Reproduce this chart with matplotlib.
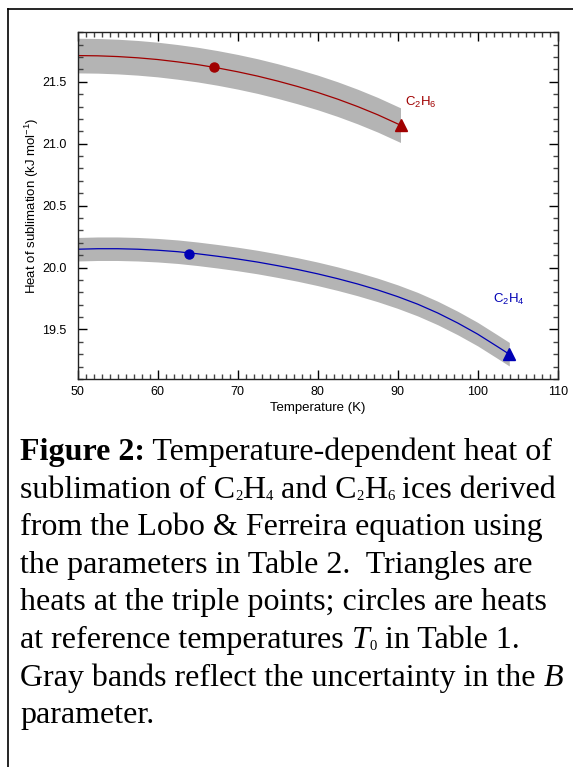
import matplotlib
matplotlib.use("Agg")
import matplotlib.pyplot as plt
from matplotlib.lines import Line2D
from matplotlib.ticker import MultipleLocator
import numpy as np

plt.rcParams['font.family'] = ['Liberation Sans', 'DejaVu Sans']
plt.rcParams['mathtext.fontset'] = 'custom'
plt.rcParams['mathtext.rm'] = 'Liberation Sans'
plt.rcParams['mathtext.it'] = 'Liberation Sans:italic'

# C2H6 curve
c2h6_T = [50, 52.5, 55, 57.5, 60, 62.5, 65, 67.5, 70, 72.5, 75, 77.5, 80,
          82.5, 85, 87.5, 90.35]
c2h6_H = [21.712, 21.710, 21.704, 21.694, 21.680, 21.661, 21.639, 21.612,
          21.581, 21.546, 21.506, 21.462, 21.414, 21.360, 21.300, 21.234, 21.15]
c2h6_band = 0.14
c2h6_ref = (67.0, 21.62)
c2h6_triple = (90.35, 21.15)

# C2H4 curve
c2h4_T = [50, 52.5, 55, 57.5, 60, 62.5, 65, 67.5, 70, 72.5, 75, 77.5, 80,
          82.5, 85, 87.5, 90, 92.5, 95, 97.5, 100, 102.5, 103.95]
c2h4_H = [20.148, 20.152, 20.152, 20.148, 20.140, 20.128, 20.111, 20.091,
          20.069, 20.044, 20.015, 19.984, 19.949, 19.910, 19.867, 19.819,
          19.765, 19.704, 19.633, 19.552, 19.462, 19.36, 19.30]
c2h4_band = 0.095
c2h4_ref = (63.9, 20.11)
c2h4_triple = (103.95, 19.30)

red = '#a00000'
blue = '#0000b4'
gray = '#b4b4b4'

fig = plt.figure(figsize=(5.73, 7.67), dpi=100)
ax = fig.add_axes([0.1356, 0.5059, 0.8377, 0.4528])

for T, H, w, c, ref, tri in [(c2h6_T, c2h6_H, c2h6_band, red, c2h6_ref, c2h6_triple),
                             (c2h4_T, c2h4_H, c2h4_band, blue, c2h4_ref, c2h4_triple)]:
    T = np.array(T)
    H = np.array(H)
    ax.fill_between(T, H - w, H + w, color=gray, lw=0)
    ax.plot(T, H, color=c, lw=0.9)
    ax.plot(*ref, 'o', color=c, ms=6.5)
    ax.plot(*tri, '^', color=c, ms=8)

ax.text(90.9, 21.33, 'C$_2$H$_6$', color=red, fontsize=9.5, va='center')
ax.text(101.9, 19.74, 'C$_2$H$_4$', color=blue, fontsize=9.5, va='center')

ax.set_xlim(50, 110)
ax.set_ylim(19.1, 21.905)
ax.xaxis.set_major_locator(MultipleLocator(10))
ax.xaxis.set_minor_locator(MultipleLocator(1))
ax.yaxis.set_major_locator(MultipleLocator(0.5))
ax.yaxis.set_minor_locator(MultipleLocator(0.1))
ax.tick_params(which='both', direction='in', top=True, right=True, labelsize=9)
ax.tick_params(which='major', length=6.5, width=1)
ax.tick_params(which='minor', length=3.5, width=1, color='#444444')
ax.tick_params(axis='y', pad=8)
ax.tick_params(axis='x', pad=5)
ax.yaxis.set_major_formatter(plt.FormatStrFormatter('%.1f'))
for s in ax.spines.values():
    s.set_linewidth(1)
    s.set_color('#222222')

ax.set_xlabel('Temperature (K)', fontsize=9.5, labelpad=3)
ax.set_ylabel('Heat of sublimation (kJ mol$^{-1}$)', fontsize=9.5, labelpad=1)

# frame around the figure box
fig.add_artist(Line2D([8 / 573, 1], [1 - 9 / 767, 1 - 9 / 767], color='black', lw=1.2))
fig.add_artist(Line2D([8 / 573, 8 / 573], [0, 1 - 9 / 767], color='black', lw=1.2))

# caption, built from runs: r = regular, b = bold, i = italic, s = subscript
cap_font = ['Liberation Serif', 'DejaVu Serif']
cap_size = 23.0
caption = [
    [('Figure 2:', 'b'), (' Temperature-dependent heat of', 'r')],
    [('sublimation of C', 'r'), ('2', 's'), ('H', 'r'), ('4', 's'), (' and C', 'r'),
     ('2', 's'), ('H', 'r'), ('6', 's'), (' ices derived', 'r')],
    [('from the Lobo & Ferreira equation using', 'r')],
    [('the parameters in Table 2.  Triangles are', 'r')],
    [('heats at the triple points; circles are heats', 'r')],
    [('at reference temperatures ', 'r'), ('T', 'i'), ('0', 's'), (' in Table 1.', 'r')],
    [('Gray bands reflect the uncertainty in the ', 'r'), ('B', 'i')],
    [('parameter.', 'r')],
]
styles = {
    'r': dict(fontsize=cap_size),
    'b': dict(fontsize=cap_size, weight='bold'),
    'i': dict(fontsize=cap_size, style='italic'),
    's': dict(fontsize=cap_size * 0.46),
}

renderer = fig.canvas.get_renderer()


def run_width(s, kw):
    t = fig.text(0, 0, '|' + s + '|', family=cap_font, **kw)
    w1 = t.get_window_extent(renderer).width
    t.remove()
    t = fig.text(0, 0, '||', family=cap_font, **kw)
    w0 = t.get_window_extent(renderer).width
    t.remove()
    return w1 - w0


x_start = 20
y_first = 460
step = 37.6
for i, runs in enumerate(caption):
    x = x_start
    y = y_first + i * step
    for s, st in runs:
        kw = styles[st]
        dy = 2 if st == 's' else 0
        fig.text(x / 573, 1 - (y + dy) / 767, s, family=cap_font, va='baseline', **kw)
        x += run_width(s, kw)

fig.savefig('out.png', dpi=100)
